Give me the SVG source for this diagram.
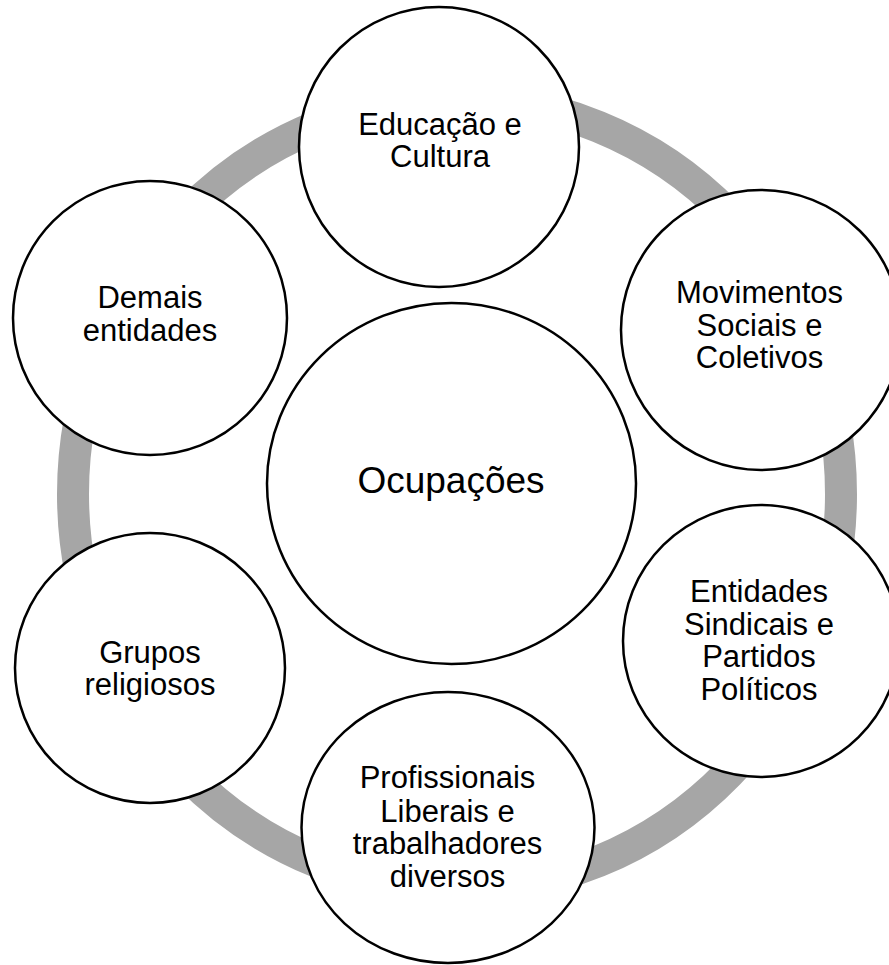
<svg xmlns="http://www.w3.org/2000/svg" width="889" height="965" viewBox="0 0 889 965">
<style>
.node{fill:#ffffff;stroke:#000000;stroke-width:2.5}
.lbl{font-family:"Liberation Sans",Arial,sans-serif;font-size:31px;fill:#000000;text-anchor:middle}
.big{font-size:37px}
.ring{fill:none;stroke:#a6a6a6;stroke-width:32}
</style>
<rect width="889" height="965" fill="#ffffff"/>
<g id="connectors">
<ellipse class="ring" cx="457" cy="494" rx="384" ry="395"/>
</g>
<g id="center">
<ellipse class="node" cx="451.5" cy="483.5" rx="184.5" ry="180.5"/>
<text class="lbl big" x="451" y="493">Ocupações</text>
</g>
<g id="educacao">
<ellipse class="node" cx="439" cy="147" rx="140" ry="140"/>
<text class="lbl" x="440" y="135">Educação e</text>
<text class="lbl" x="440" y="167">Cultura</text>
</g>
<g id="movimentos">
<ellipse class="node" cx="761" cy="330" rx="140" ry="140"/>
<text class="lbl" x="759.5" y="303">Movimentos</text>
<text class="lbl" x="759.5" y="336">Sociais e</text>
<text class="lbl" x="759.5" y="368">Coletivos</text>
</g>
<g id="sindicais">
<ellipse class="node" cx="761" cy="641" rx="138" ry="136"/>
<text class="lbl" x="759" y="602">Entidades</text>
<text class="lbl" x="759" y="635">Sindicais e</text>
<text class="lbl" x="759" y="667">Partidos</text>
<text class="lbl" x="759" y="700">Políticos</text>
</g>
<g id="profissionais">
<ellipse class="node" cx="448" cy="827.5" rx="146.5" ry="135.5"/>
<text class="lbl" x="447.5" y="788">Profissionais</text>
<text class="lbl" x="447.5" y="822">Liberais e</text>
<text class="lbl" x="447.5" y="854">trabalhadores</text>
<text class="lbl" x="447.5" y="887">diversos</text>
</g>
<g id="religiosos">
<ellipse class="node" cx="150" cy="668" rx="135" ry="135"/>
<text class="lbl" x="150" y="663">Grupos</text>
<text class="lbl" x="150" y="695">religiosos</text>
</g>
<g id="demais">
<ellipse class="node" cx="150" cy="318" rx="137" ry="137"/>
<text class="lbl" x="150" y="308">Demais</text>
<text class="lbl" x="150" y="341">entidades</text>
</g>
</svg>
